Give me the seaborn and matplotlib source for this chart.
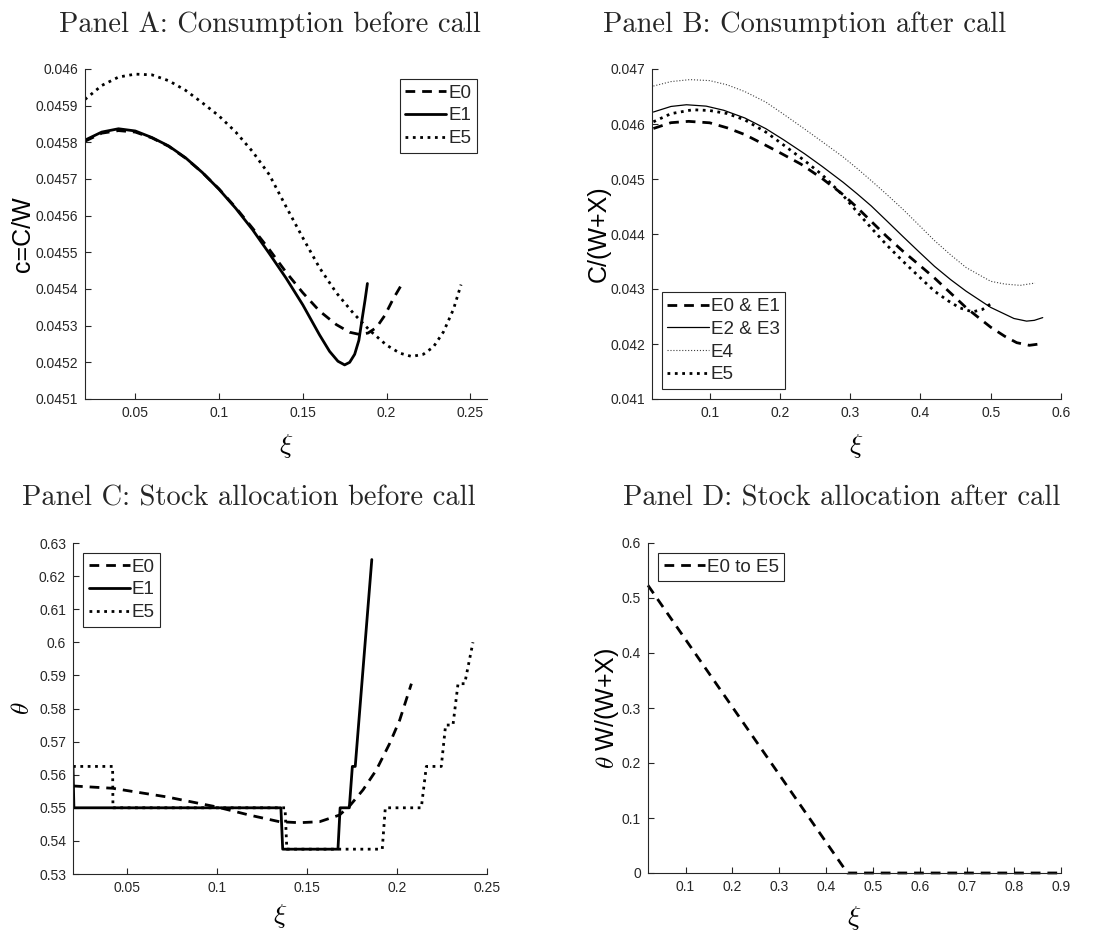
import matplotlib
matplotlib.use("Agg")
import matplotlib.pyplot as plt
import matplotlib.ticker as mticker
import seaborn as sns

# ---- Panel A: consumption before call (c = C/W) ----
xi_a_e0 = [0.020, 0.030, 0.040, 0.050, 0.060, 0.070, 0.080, 0.090, 0.100, 0.110, 0.120,
           0.130, 0.140, 0.150, 0.160, 0.170, 0.178, 0.184, 0.189, 0.194, 0.199, 0.204, 0.2085]
c_a_e0 = [0.045803, 0.045825, 0.045832, 0.045828, 0.045812, 0.045789, 0.045757, 0.045718,
          0.045673, 0.045622, 0.045566, 0.045508, 0.045446, 0.045390, 0.045340, 0.045303,
          0.045282, 0.045276, 0.045280, 0.045295, 0.045328, 0.045373, 0.045408]

xi_a_e1 = [0.020, 0.030, 0.040, 0.050, 0.060, 0.070, 0.080, 0.090, 0.100, 0.110, 0.120,
           0.130, 0.140, 0.150, 0.160, 0.166, 0.171, 0.175, 0.178, 0.181, 0.1835, 0.1855,
           0.1872, 0.1886]
c_a_e1 = [0.045806, 0.045828, 0.045837, 0.045831, 0.045813, 0.045790, 0.045758, 0.045718,
          0.045672, 0.045620, 0.045562, 0.045497, 0.045430, 0.045357, 0.045275, 0.045230,
          0.045203, 0.045193, 0.045200, 0.045222, 0.045260, 0.045320, 0.045370, 0.045415]

xi_a_e5 = [0.020, 0.030, 0.040, 0.050, 0.060, 0.070, 0.080, 0.090, 0.100, 0.110, 0.120,
           0.130, 0.140, 0.150, 0.160, 0.170, 0.180, 0.190, 0.200, 0.208, 0.215, 0.222,
           0.228, 0.234, 0.240, 0.2445]
c_a_e5 = [0.045917, 0.045955, 0.045978, 0.045986, 0.045984, 0.045968, 0.045942, 0.045908,
          0.045872, 0.045828, 0.045775, 0.045712, 0.045625, 0.045540, 0.045458, 0.045390,
          0.045335, 0.045287, 0.045247, 0.045225, 0.045216, 0.045222, 0.045242, 0.045283,
          0.045345, 0.045412]

# ---- Panel B: consumption after call (C/(W+X)) ----
xi_b_e01 = [0.020, 0.045, 0.070, 0.100, 0.125, 0.150, 0.175, 0.200, 0.230, 0.260, 0.290,
            0.310, 0.330, 0.352, 0.375, 0.398, 0.420, 0.443, 0.465, 0.500, 0.520, 0.537,
            0.555, 0.575]
c_b_e01 = [0.045918, 0.046024, 0.046048, 0.046022, 0.045930, 0.045808, 0.045645, 0.045478,
           0.045270, 0.045010, 0.044715, 0.044480, 0.044229, 0.043955, 0.043688, 0.043440,
           0.043200, 0.042925, 0.042660, 0.042305, 0.042140, 0.042024, 0.041976, 0.042010]

xi_b_e23 = [0.020, 0.045, 0.067, 0.095, 0.120, 0.150, 0.180, 0.205, 0.235, 0.260, 0.290,
            0.310, 0.330, 0.352, 0.375, 0.398, 0.420, 0.443, 0.465, 0.500, 0.533, 0.551,
            0.562, 0.574]
c_b_e23 = [0.046218, 0.046319, 0.046350, 0.046325, 0.046250, 0.046110, 0.045915, 0.045715,
           0.045460, 0.045230, 0.044940, 0.044730, 0.044510, 0.044240, 0.043955, 0.043675,
           0.043412, 0.043170, 0.042960, 0.042665, 0.042464, 0.042416, 0.042430, 0.042480]

xi_b_e4 = [0.020, 0.045, 0.072, 0.100, 0.125, 0.150, 0.180, 0.205, 0.235, 0.260, 0.290,
           0.310, 0.330, 0.352, 0.375, 0.398, 0.420, 0.443, 0.465, 0.500, 0.520, 0.542, 0.563]
c_b_e4 = [0.046690, 0.046771, 0.046807, 0.046789, 0.046712, 0.046590, 0.046398, 0.046180,
          0.045910, 0.045680, 0.045400, 0.045190, 0.044970, 0.044720, 0.044450, 0.044160,
          0.043880, 0.043620, 0.043390, 0.043140, 0.043090, 0.043066, 0.043108]

xi_b_e5 = [0.020, 0.045, 0.076, 0.100, 0.125, 0.150, 0.180, 0.205, 0.235, 0.260, 0.290,
           0.310, 0.330, 0.352, 0.375, 0.398, 0.420, 0.440, 0.456, 0.474, 0.488, 0.502]
c_b_e5 = [0.046040, 0.046188, 0.046259, 0.046245, 0.046190, 0.046075, 0.045853, 0.045620,
          0.045335, 0.045078, 0.044700, 0.044400, 0.044110, 0.043800, 0.043505, 0.043225,
          0.042960, 0.042780, 0.042657, 0.042584, 0.042627, 0.042747]

# ---- Panel C: stock allocation before call (theta) ----
xi_c_e0 = [0.020, 0.042, 0.072, 0.0995, 0.118, 0.1347, 0.1458, 0.157, 0.168, 0.1736,
           0.1811, 0.1885, 0.1959, 0.2015, 0.208]
th_c_e0 = [0.5566, 0.5559, 0.5533, 0.5503, 0.5478, 0.5458, 0.5455, 0.5458, 0.5478, 0.5505,
           0.5554, 0.5614, 0.5694, 0.5765, 0.5875]

xi_c_e1 = [0.020, 0.0205, 0.1355, 0.1365, 0.1672, 0.1684, 0.1735, 0.1752, 0.1768, 0.186]
th_c_e1 = [0.5625, 0.55, 0.55, 0.5375, 0.5375, 0.55, 0.55, 0.5625, 0.5625, 0.625]

xi_c_e5 = [0.020, 0.042, 0.0422, 0.1378, 0.1388, 0.1918, 0.1935, 0.2135, 0.2163, 0.2246,
           0.227, 0.2311, 0.2339, 0.2376, 0.2422]
th_c_e5 = [0.5625, 0.5625, 0.55, 0.55, 0.5375, 0.5375, 0.55, 0.55, 0.5625, 0.5625,
           0.575, 0.575, 0.5875, 0.5875, 0.6]

# ---- Panel D: stock allocation after call ----
xi_d = [0.020, 0.445, 0.900]
th_d = [0.523, 0.0, 0.0]

sns.set_style("ticks")
plt.rcParams["font.family"] = ["Liberation Sans", "DejaVu Sans"]
plt.rcParams["mathtext.fontset"] = "cm"

INK = "#262626"
W, H = 1100, 934
fig = plt.figure(figsize=(11, 9.34), dpi=100)


def make_axes(left, top, width, height):
    # positions given in pixels from the top-left corner
    return fig.add_axes([left / W, 1 - (top + height) / H, width / W, height / H])


def style_axes(ax, xlim, ylim, xstep, ystep):
    ax.set_xlim(*xlim)
    ax.set_ylim(*ylim)
    ax.xaxis.set_major_locator(mticker.MultipleLocator(xstep))
    ax.yaxis.set_major_locator(mticker.MultipleLocator(ystep))
    ax.xaxis.set_major_formatter(mticker.FormatStrFormatter("%g"))
    ax.yaxis.set_major_formatter(mticker.FormatStrFormatter("%g"))
    ax.tick_params(direction="in", length=4, width=0.8, colors=INK, labelsize=10, pad=5)
    sns.despine(ax=ax)
    for s in ("left", "bottom"):
        ax.spines[s].set_color(INK)
        ax.spines[s].set_linewidth(0.8)


def draw(ax, x, y, label, ls, lw, color="k", dashes=None, clip=True):
    sns.lineplot(x=x, y=y, ax=ax, color=color, linestyle=ls, linewidth=lw,
                 label=label, sort=False, estimator=None, legend=False)
    line = ax.lines[-1]
    if dashes is not None:
        line.set_dashes(dashes)
    line.set_clip_on(clip)


def legend(ax, loc, anchor):
    leg = ax.legend(loc=loc, bbox_to_anchor=anchor, fontsize=13.5, frameon=True,
                    fancybox=False, framealpha=1, edgecolor=INK, borderpad=0.3,
                    labelspacing=0.3, handlelength=2.2, handletextpad=0.1,
                    borderaxespad=0)
    leg.get_frame().set_linewidth(0.8)


def titles(ax, title, xpos, ylabel, ylx, xly):
    ax.set_title(title, fontfamily="cmr10", fontsize=20.5, x=xpos, pad=27)
    ax.set_ylabel(ylabel, fontsize=18, color="k")
    ax.yaxis.set_label_coords(ylx, 0.5)
    ax.set_xlabel(r"$\xi$", fontsize=20, color="k")
    ax.xaxis.set_label_coords(0.5, xly)


DASH = (3.5, 2.5)

# Panel A
ax_a = make_axes(85, 69, 402, 330)
draw(ax_a, xi_a_e0, c_a_e0, "E0", "--", 2, dashes=DASH)
draw(ax_a, xi_a_e1, c_a_e1, "E1", "-", 2)
draw(ax_a, xi_a_e5, c_a_e5, "E5", ":", 2)
style_axes(ax_a, (0.02, 0.26), (0.0451, 0.046), 0.05, 0.0001)
legend(ax_a, "upper right", (0.975, 0.97))
titles(ax_a, "Panel A: Consumption before call", 0.46, "c=C/W", -0.125, -0.1)

# Panel B
ax_b = make_axes(652, 69, 409, 330)
draw(ax_b, xi_b_e01, c_b_e01, "E0 & E1", "--", 2, dashes=DASH)
draw(ax_b, xi_b_e23, c_b_e23, "E2 & E3", "-", 0.9)
draw(ax_b, xi_b_e4, c_b_e4, "E4", ":", 0.8, color="0.25")
draw(ax_b, xi_b_e5, c_b_e5, "E5", ":", 2)
style_axes(ax_b, (0.018, 0.6), (0.041, 0.047), 0.1, 0.001)
legend(ax_b, "lower left", (0.024, 0.03))
titles(ax_b, "Panel B: Consumption after call", 0.372, "C/(W+X)", -0.1, -0.1)

# Panel C
ax_c = make_axes(73, 543, 414, 331)
draw(ax_c, xi_c_e0, th_c_e0, "E0", "--", 2, dashes=DASH)
draw(ax_c, xi_c_e1, th_c_e1, "E1", "-", 2)
draw(ax_c, xi_c_e5, th_c_e5, "E5", ":", 2)
style_axes(ax_c, (0.02, 0.25), (0.53, 0.63), 0.05, 0.01)
legend(ax_c, "upper left", (0.024, 0.97))
titles(ax_c, "Panel C: Stock allocation before call", 0.425, r"$\theta$", -0.095, -0.085)

# Panel D
ax_d = make_axes(648, 543, 413, 330)
draw(ax_d, xi_d, th_d, "E0 to E5", "--", 2, dashes=DASH, clip=False)
style_axes(ax_d, (0.02, 0.9), (0, 0.6), 0.1, 0.1)
legend(ax_d, "upper left", (0.024, 0.97))
titles(ax_d, "Panel D: Stock allocation after call", 0.47, r"$\theta$ W/(W+X)", -0.066, -0.095)

fig.savefig("out.png", dpi=100)
